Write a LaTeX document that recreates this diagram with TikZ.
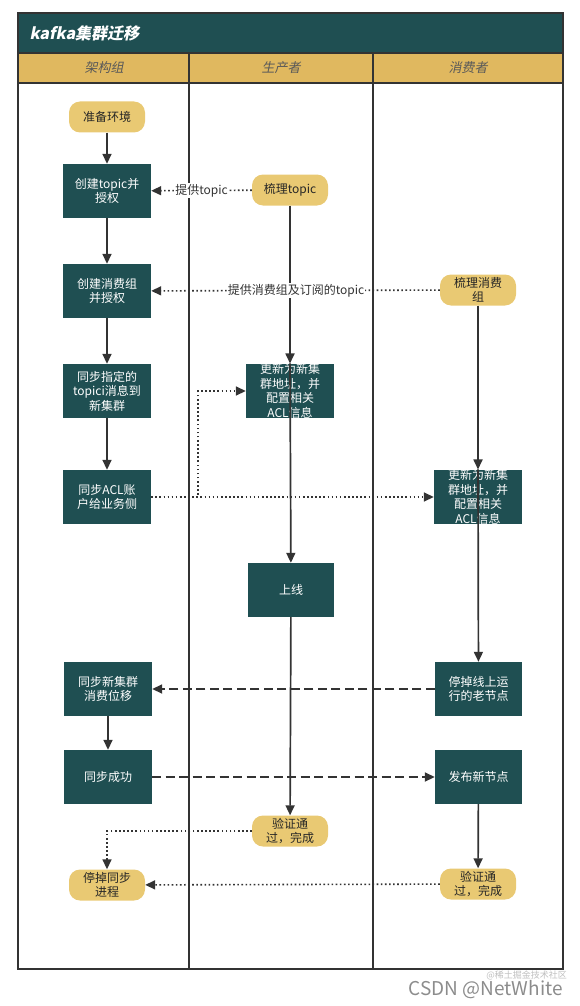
\documentclass[tikz,border=0pt]{standalone}
\usepackage{fontspec}
\setmainfont{Noto Sans CJK SC}
\newfontfamily\slantfont[FakeSlant=0.2]{Noto Sans CJK SC}
\usetikzlibrary{arrows.meta,positioning}
\definecolor{teal1}{HTML}{1F4F52}
\definecolor{gold1}{HTML}{E9C973}
\definecolor{head1}{HTML}{E0B85F}
\definecolor{line1}{HTML}{333333}
\tikzset{
  proc/.style={fill=teal1, text=white, minimum width=88pt, minimum height=54pt, inner sep=0pt,
    align=center, font=\fontsize{12}{14.5}\selectfont},
  term/.style={fill=gold1, rounded corners=11pt, minimum width=76pt, minimum height=31pt, inner sep=0pt,
    align=center, text=black!85, font=\fontsize{12}{14.5}\selectfont},
  flow/.style={draw=line1, line width=1.7pt, -{Triangle[length=10pt,width=9pt]}},
  dotln/.style={draw=line1, line width=1.6pt, dash pattern=on 1.6pt off 2.5pt, -{Triangle[length=10pt,width=9pt]}},
  dashln/.style={draw=line1, line width=1.7pt, dash pattern=on 9pt off 4.5pt, -{Triangle[length=10pt,width=9pt]}},
  elabel/.style={fill=white, inner sep=1pt, text=line1, font=\fontsize{12}{14}\selectfont},
  headlabel/.style={text=black!65, font=\slantfont\fontsize{13}{15}\selectfont},
}
\begin{document}
\begin{tikzpicture}[x=1pt,y=-1pt]
\useasboundingbox (0,0) rectangle (579,1006);
% frame
\fill[teal1] (18,13) rectangle (563,53);
\fill[head1] (18,53) rectangle (563,83);
\draw[line1, line width=2pt] (18,13) rectangle (563,969);
\draw[line1, line width=2pt] (18,53) -- (563,53);
\draw[line1, line width=2pt] (18,83) -- (563,83);
\draw[line1, line width=2pt] (189,53) -- (189,969);
\draw[line1, line width=2pt] (373,53) -- (373,969);
\node[anchor=west, text=white, font=\slantfont\bfseries\fontsize{16}{18}\selectfont] (title) at (26,33) {kafka集群迁移};
\node[headlabel] (h1) at (104,68) {架构组};
\node[headlabel] (h2) at (281,68) {生产者};
\node[headlabel] (h3) at (468,68) {消费者};

% nodes
\node[term] (prep) at (107,117) {准备环境};
\node[proc] (ctopic) at (107,191) {创建topic并\\授权};
\node[term] (stopic) at (290,190) {梳理topic};
\node[proc] (cgroup) at (107,291) {创建消费组\\并授权};
\node[term] (sgroup) at (478,290) {梳理消费\\组};
\node[proc] (sync) at (107,391) {同步指定的\\topici消息到\\新集群};
\node[proc] (upd1) at (290,391) {更新为新集\\群地址，并\\配置相关\\ACL信息};
\node[proc] (acl) at (107,497) {同步ACL账\\户给业务侧};
\node[proc] (upd2) at (478,497) {更新为新集\\群地址，并\\配置相关\\ACL信息};
\node[proc, minimum width=86pt] (online) at (291,590) {上线};
\node[proc] (offset) at (108,689) {同步新集群\\消费位移};
\node[proc, minimum width=87pt] (stopold) at (478.5,689) {停掉线上运\\行的老节点};
\node[proc] (syncok) at (108,777) {同步成功};
\node[proc, minimum width=87pt] (pub) at (478.5,777) {发布新节点};
\node[term] (ok1) at (290,831) {验证通\\过，完成};
\node[term] (stopsync) at (107,885) {停掉同步\\进程};
\node[term] (ok2) at (478,884) {验证通\\过，完成};

% solid flows
\draw[flow] (prep) -- (ctopic);
\draw[flow] (ctopic) -- (cgroup);
\draw[flow] (cgroup) -- (sync);
\draw[flow] (sync) -- (acl);
\draw[flow] (stopic) -- (upd1);
\draw[flow] (upd1.north) -- (online);
\draw[flow] (online) -- (ok1);
\draw[flow] (sgroup) -- (upd2);
\draw[flow] (upd2.north) -- (stopold);
\draw[flow] (offset) -- (syncok);
\draw[flow] (pub) -- (ok2);

% dotted
\draw[dotln] (stopic) -- node[elabel] {提供topic} (ctopic);
\draw[dotln] (sgroup) -- node[elabel, pos=0.498] {提供消费组及订阅的topic} (cgroup);
\draw[dotln] (acl) -- (upd2);
\draw[dotln] (acl.east) -- ++(47,0) |- (upd1.west);
\draw[dotln] (ok1.west) -| (stopsync.north);
\draw[dotln] (ok2) -- (stopsync);

% dashed
\draw[dashln] (stopold) -- (offset);
\draw[dashln] (syncok) -- (pub);

% watermark
\node[anchor=east, text=black!45, font=\fontsize{19}{21}\selectfont, inner sep=0pt] (wm1) at (563,990) {CSDN @NetWhite};
\node[anchor=east, text=black!25, font=\fontsize{9}{10}\selectfont, inner sep=0pt] (wm2) at (567,975) {@稀土掘金技术社区};
\end{tikzpicture}
\end{document}
